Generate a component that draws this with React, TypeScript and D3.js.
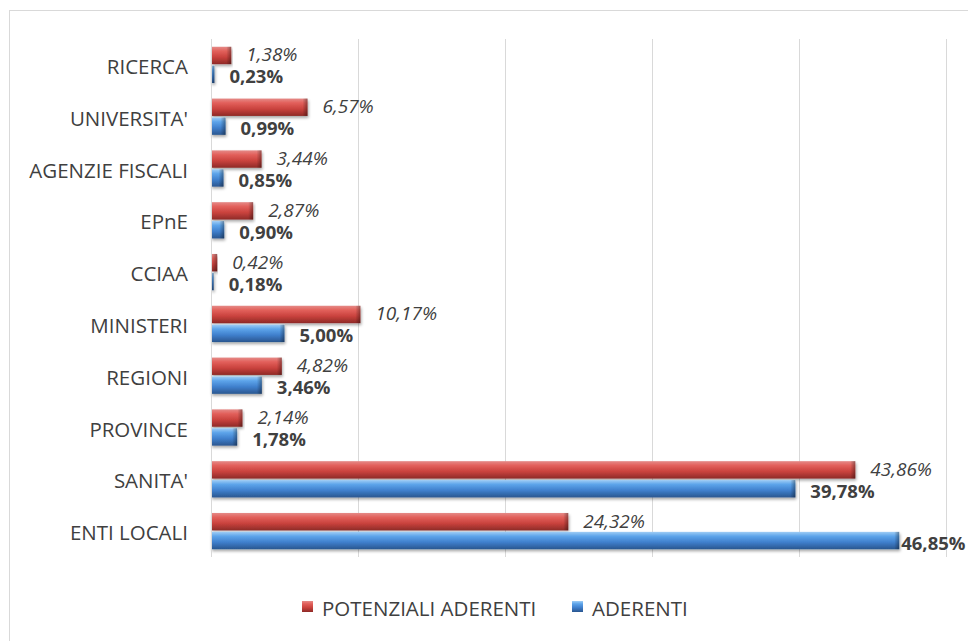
import React from "react";
import * as d3 from "d3";

const categories = ["RICERCA", "UNIVERSITA'", "AGENZIE FISCALI", "EPnE", "CCIAA", "MINISTERI", "REGIONI", "PROVINCE", "SANITA'", "ENTI LOCALI"];
const potenziali = [1.38, 6.57, 3.44, 2.87, 0.42, 10.17, 4.82, 2.14, 43.86, 24.32];
const aderenti = [0.23, 0.99, 0.85, 0.90, 0.18, 5.00, 3.46, 1.78, 39.78, 46.85];
const xTicks = [0, 10, 20, 30, 40, 50];
const seriesNames = ["POTENZIALI ADERENTI", "ADERENTI"];

const W = 968, H = 641;
const FONT = "Open Sans, 'Noto Sans', sans-serif";

const fmt = (v: number) => v.toFixed(2).replace(".", ",") + "%";

export default function App() {
  const x = d3.scaleLinear().domain([0, 50]).range([211, 945.5]);
  const y = d3.scaleBand().domain(categories).range([39, 557]).paddingInner(0.3).paddingOuter(0.15);
  const inner = d3.scaleBand().domain(["p", "a"]).range([0, y.bandwidth()]).paddingInner(0.08);

  const labelX = (end: number, text: string, bold: boolean) => {
    const w = text.length * (bold ? 10.6 : 9.6);
    let lx = end + 15;
    if (lx + w > 968) lx = end + 2;
    return lx;
  };

  return (
    <svg width={W} height={H} style={{ position: "absolute", left: 0, top: 0, background: "#fff" }} fontFamily={FONT}>
      <defs>
        <linearGradient id="gRed" x1="0" y1="0" x2="0" y2="1">
          <stop offset="0" stopColor="#e58a87" />
          <stop offset="0.25" stopColor="#e2605b" />
          <stop offset="0.6" stopColor="#c9423d" />
          <stop offset="1" stopColor="#8e2a27" />
        </linearGradient>
        <linearGradient id="gBlue" x1="0" y1="0" x2="0" y2="1">
          <stop offset="0" stopColor="#9fcdf5" />
          <stop offset="0.25" stopColor="#5da4ea" />
          <stop offset="0.6" stopColor="#3f7fcc" />
          <stop offset="1" stopColor="#2a568f" />
        </linearGradient>
        <linearGradient id="gEnd" x1="0" y1="0" x2="1" y2="0">
          <stop offset="0" stopColor="#000" stopOpacity="0" />
          <stop offset="1" stopColor="#000" stopOpacity="0.35" />
        </linearGradient>
        <filter id="shadow" x="-5%" y="-30%" width="110%" height="180%">
          <feGaussianBlur in="SourceAlpha" stdDeviation="1.5" />
          <feOffset dx="1" dy="2" result="ob" />
          <feComponentTransfer>
            <feFuncA type="linear" slope="0.35" />
          </feComponentTransfer>
          <feMerge>
            <feMergeNode />
            <feMergeNode in="SourceGraphic" />
          </feMerge>
        </filter>
      </defs>

      <rect x={9.5} y={10.5} width={970} height={640} fill="#fff" stroke="#d9d9d9" strokeWidth={1} />

      {xTicks.map((t) => (
        <line key={t} x1={Math.round(x(t)) + 0.5} x2={Math.round(x(t)) + 0.5} y1={39} y2={557} stroke="#d9d9d9" strokeWidth={1} />
      ))}

      {categories.map((c, i) => {
        const y0 = y(c)!;
        const yp = y0 + inner("p")!;
        const ya = y0 + inner("a")!;
        const h = inner.bandwidth();
        const ep = x(potenziali[i]);
        const ea = x(aderenti[i]);
        const tp = fmt(potenziali[i]);
        const ta = fmt(aderenti[i]);
        return (
          <g key={c}>
            <text x={188} y={y0 + y.bandwidth() / 2 + 1} textAnchor="end" dominantBaseline="central" fontSize={20.5} fill="#404040">{c}</text>
            <g filter="url(#shadow)">
              <rect x={x(0)} y={yp} width={ep - x(0)} height={h} fill="url(#gRed)" />
              <rect x={x(0)} y={ya} width={ea - x(0)} height={h} fill="url(#gBlue)" />
            </g>
            <rect x={Math.max(x(0), ep - 5)} y={yp} width={Math.min(5, ep - x(0))} height={h} fill="url(#gEnd)" />
            <rect x={Math.max(x(0), ea - 5)} y={ya} width={Math.min(5, ea - x(0))} height={h} fill="url(#gEnd)" />
            <text x={labelX(ep, tp, false)} y={yp + h / 2 - 1} dominantBaseline="central" fontSize={19} fontStyle="italic" fill="#404040">{tp}</text>
            <text x={labelX(ea, ta, true)} y={ya + h / 2 + 1.5} dominantBaseline="central" fontSize={18.5} fontWeight="bold" fill="#404040">{ta}</text>
          </g>
        );
      })}

      <line x1={211.5} x2={211.5} y1={39} y2={557} stroke="#d9d9d9" />

      <g>
        <rect x={302} y={601} width={11} height={11} fill="url(#gRed)" />
        <text x={322} y={608} dominantBaseline="central" fontSize={20.5} fill="#404040">{seriesNames[0]}</text>
        <rect x={572} y={601} width={11} height={11} fill="url(#gBlue)" />
        <text x={592} y={608} dominantBaseline="central" fontSize={20.5} fill="#404040">{seriesNames[1]}</text>
      </g>
    </svg>
  );
}
